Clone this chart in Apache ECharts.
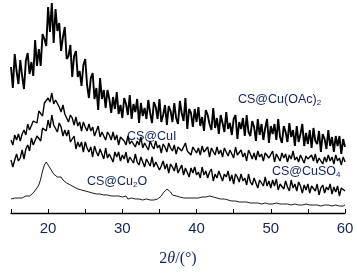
<!DOCTYPE html>
<html>
<head>
<meta charset="utf-8">
<script src="https://cdn.jsdelivr.net/npm/echarts@6/dist/echarts.min.js"></script>
<style>
  html, body { margin: 0; padding: 0; background: #fff; }
  #chart { width: 357px; height: 273px; }
</style>
</head>
<body>
<div id="chart"></div>
<script>
// 2θ sampling grid of the patterns (degrees)
var thetaStart = 15;
var thetaStep = 0.25;

// intensities, arbitrary units, one value per grid step
var cuOAc2 = [
  146,125,159,142,129,153,137,124,152,160,139,151,137,173,147,164,
  147,179,174,167,206,181,210,170,204,182,190,162,176,186,154,157,
  168,136,157,162,136,142,127,148,154,128,115,135,140,114,125,103,
  135,114,123,105,123,114,100,116,104,121,99,108,95,115,109,98,
  118,94,109,101,114,90,110,97,105,94,113,100,90,111,106,94,
  114,91,98,108,88,107,102,91,110,95,89,112,100,92,115,84,
  104,100,86,104,91,106,87,96,82,103,98,89,83,105,85,95,
  79,98,90,81,101,84,90,78,94,98,74,91,84,95,77,98,
  81,77,92,86,72,94,78,89,73,85,94,70,87,79,89,73,
  94,76,70,87,81,71,90,76,83,67,87,71,79,89,67,80,
  69,83,65,85,72,69,82,61,79,74,64,83,67,76,61,77,
  67,77,59,74,66
];
var cuI = [
  73,68,78,73,79,72,79,83,78,89,83,82,92,92,90,102,
  102,97,110,108,115,111,120,109,113,114,106,101,108,99,100,91,
  98,95,88,96,87,91,82,91,86,82,89,82,86,77,82,87,
  76,81,77,73,81,78,73,81,73,78,68,76,77,72,68,77,
  69,72,74,66,72,68,76,65,70,72,63,72,67,64,72,65,
  68,60,69,66,61,70,65,62,68,59,66,67,62,60,70,62,
  64,58,66,67,60,65,58,67,61,60,66,56,65,63,58,66,
  59,63,56,65,61,57,63,62,55,66,58,58,63,56,60,52,
  63,59,54,60,53,62,56,59,52,60,61,55,54,62,51,59,
  58,52,60,55,59,51,58,54,62,53,56,51,58,60,50,57,
  54,52,58,52,59,50,55,57,49,56,51,58,52,56,49,58,
  52,55,48,56,51
];
var cuSO4 = [
  53,46,53,59,52,55,63,54,64,68,62,75,68,67,77,77,
  72,85,85,82,93,85,98,88,90,81,90,86,77,83,77,83,
  71,74,77,64,71,66,71,61,71,65,61,66,56,67,61,57,
  64,62,54,65,55,59,61,51,61,56,61,52,58,54,61,50,
  56,57,50,59,51,48,56,54,46,54,52,47,56,46,51,53,
  43,47,52,44,49,40,49,46,42,50,40,41,48,38,45,44,
  36,45,40,46,38,41,35,46,38,42,35,41,44,32,39,35,
  42,40,32,39,36,42,32,38,29,39,36,31,39,32,35,28,
  39,31,28,35,37,25,33,32,27,36,27,32,25,33,27,34,
  23,29,31,24,32,26,22,33,25,29,22,31,27,20,28,23,
  29,20,27,28,22,29,18,25,28,20,26,23,29,19,26,21,
  27,17,25,26,22
];
var cu2O = [
  14,16,15,16,15,17,15,17,17,18,17,19,20,21,25,28,
  34,42,48,51,49,45,42,39,38,36,37,36,33,31,30,28,
  28,26,26,24,24,22,23,21,22,20,21,19,20,18,19,17,
  19,17,18,16,18,16,17,15,17,15,17,15,16,15,17,14,
  16,15,16,14,16,14,15,13,15,14,15,13,15,13,15,14,
  16,17,20,22,24,24,21,18,16,17,15,16,17,15,16,15,
  17,15,16,15,17,15,16,16,17,16,18,17,18,16,17,15,
  16,14,15,14,14,13,14,12,13,12,13,11,12,11,12,11,
  12,10,11,10,11,10,11,9,11,10,11,9,10,9,11,10,
  11,9,10,9,10,9,10,8,10,9,10,8,9,8,10,9,
  9,8,9,8,9,8,9,7,9,8,9,8,8,7,9,8,
  8,7,8,7,8
];
var xTicks = [20, 30, 40, 50, 60];

var textColor = '#15245c';
var sansFont = '"Liberation Sans", Arial, sans-serif';
var serifFont = '"Liberation Serif", "Times New Roman", serif';

function toPairs(vals) {
    return vals.map(function (v, i) {
        return [thetaStart + i * thetaStep, v];
    });
}

function lineSeries(name, vals, width) {
    return {
        name: name,
        type: 'line',
        data: toPairs(vals),
        symbol: 'none',
        animation: false,
        lineStyle: { color: '#000', width: width }
    };
}

// label with an optional subscript piece in the middle
function label(x, y, head, sub, tail) {
    var text = '{a|' + head + '}' + (sub ? '{s|' + sub + '}' : '') + (tail ? '{a|' + tail + '}' : '');
    return {
        type: 'text',
        x: x,
        y: y,
        style: {
            text: text,
            fill: textColor,
            verticalAlign: 'middle',
            rich: {
                a: { fontSize: 12.5, fontFamily: sansFont, fill: textColor, lineHeight: 14, verticalAlign: 'top' },
                s: { fontSize: 8, fontFamily: sansFont, fill: textColor, lineHeight: 8, verticalAlign: 'bottom', padding: [8, 0, 0, 0] }
            }
        }
    };
}

var chart = echarts.init(document.getElementById('chart'));
chart.setOption({
    animation: false,
    grid: { left: 11, right: 12, top: 0, bottom: 60, containLabel: false },
    xAxis: {
        type: 'value',
        min: 15,
        max: 60,
        interval: 5,
        name: '{n|2}{i|θ}{n|/(°)}',
        nameLocation: 'middle',
        nameGap: 38,
        nameTextStyle: {
            rich: {
                n: { fontFamily: serifFont, fontSize: 16, color: textColor },
                i: { fontFamily: serifFont, fontSize: 16, fontStyle: 'italic', color: textColor }
            }
        },
        axisLine: { lineStyle: { color: '#000', width: 1.3 } },
        axisTick: { inside: true, length: 4, lineStyle: { color: '#000', width: 1 } },
        axisLabel: {
            margin: 8,
            fontSize: 15,
            fontFamily: sansFont,
            color: textColor,
            formatter: function (v) {
                return xTicks.indexOf(v) >= 0 ? String(v) : '';
            }
        },
        splitLine: { show: false }
    },
    yAxis: {
        type: 'value',
        min: 0,
        max: 213,
        show: false
    },
    series: [
        lineSeries('CS@Cu(OAc)2', cuOAc2, 1.9),
        lineSeries('CS@CuI', cuI, 1.4),
        lineSeries('CS@CuSO4', cuSO4, 1.4),
        lineSeries('CS@Cu2O', cu2O, 0.9)
    ],
    graphic: [
        label(238, 100, 'CS@Cu(OAc)', '2', ''),
        label(127, 137, 'CS@CuI', '', ''),
        label(272, 172, 'CS@CuSO', '4', ''),
        label(87, 182, 'CS@Cu', '2', 'O')
    ]
});
</script>
</body>
</html>
